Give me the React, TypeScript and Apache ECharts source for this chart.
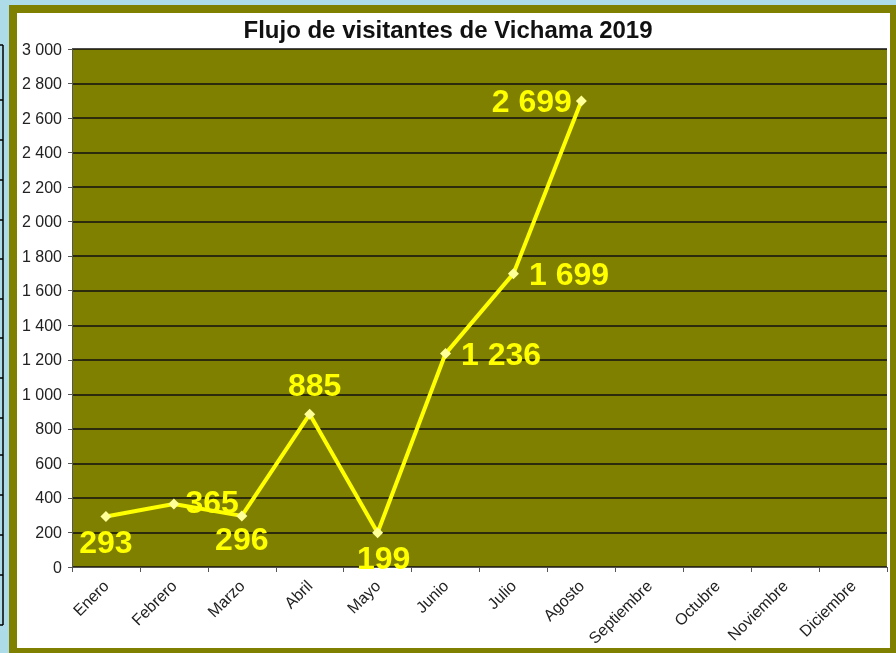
import React, { useEffect, useRef } from "react";
import * as echarts from "echarts";

const title = "Flujo de visitantes de Vichama 2019";
const months = ["Enero", "Febrero", "Marzo", "Abril", "Mayo", "Junio", "Julio", "Agosto", "Septiembre", "Octubre", "Noviembre", "Diciembre"];
const visitors: (number | null)[] = [293, 365, 296, 885, 199, 1236, 1699, 2699, null, null, null, null];
const labelPositions = ["bottom", "right", "bottom", "top", "bottom", "right", "right", "left", "top", "top", "top", "top"];
const labelOffsets: [number, number][] = [[0, 0], [2, -2], [0, -2], [5, -4], [6, 0], [6, 0], [6, 0], [0, 0], [0, 0], [0, 0], [0, 0], [0, 0]];
const tableLineYs = [45, 100, 140, 180, 220, 259, 299, 338, 378, 418, 455, 495, 535, 575, 625];

const fmt = (v: number) => {
  const s = String(Math.round(v));
  return s.replace(/\B(?=(\d{3})+(?!\d))/g, " ");
};

export default function App() {
  const ref = useRef<HTMLDivElement>(null);
  useEffect(() => {
    if (!ref.current) return;
    const chart = echarts.init(ref.current, null, { renderer: "svg" });
    const graphics: any[] = [
      { type: "rect", z: -10, shape: { x: 0, y: 0, width: 896, height: 653 }, style: { fill: "#aedbe8" } },
      { type: "rect", z: -9, shape: { x: 9, y: 5, width: 887, height: 648 }, style: { fill: "#808000" } },
      { type: "rect", z: -8, shape: { x: 17, y: 13, width: 873, height: 635 }, style: { fill: "#ffffff" } },
      { type: "line", z: -7, shape: { x1: 3, y1: 45, x2: 3, y2: 625 }, style: { stroke: "#000", lineWidth: 1.5 } },
    ];
    tableLineYs.forEach((y) => {
      graphics.push({ type: "line", z: -7, shape: { x1: 0, y1: y, x2: 3, y2: y }, style: { stroke: "#000", lineWidth: 1.5 } });
    });
    chart.setOption({
      animation: false,
      title: {
        text: title,
        left: 443,
        textAlign: "center",
        top: 12,
        textStyle: { fontFamily: "Arial, Liberation Sans", fontWeight: "bold", fontSize: 24, color: "#111" },
      },
      graphic: graphics,
      grid: { left: 72, right: 9, top: 49, bottom: 86, show: true, backgroundColor: "#808000", borderWidth: 0 },
      xAxis: {
        type: "category",
        data: months,
        boundaryGap: true,
        axisLine: { lineStyle: { color: "#555", width: 1 } },
        axisTick: { show: true, length: 5, lineStyle: { color: "#555" } },
        axisLabel: {
          rotate: 45,
          fontFamily: "Arial, Liberation Sans",
          fontSize: 16,
          color: "#222",
          margin: 16,
        },
      },
      yAxis: {
        type: "value",
        min: 0,
        max: 3000,
        interval: 200,
        axisLine: { show: true, lineStyle: { color: "#555", width: 1 } },
        axisTick: { show: true, length: 4, lineStyle: { color: "#555" } },
        splitLine: { show: true, lineStyle: { color: "#111", width: 1.5 } },
        axisLabel: {
          formatter: (v: number) => fmt(v),
          fontFamily: "Arial, Liberation Sans",
          fontSize: 16,
          color: "#222",
          margin: 10,
        },
      },
      series: [
        {
          type: "line",
          data: visitors.map((v, i) => ({
            value: v,
            label: { position: labelPositions[i], offset: labelOffsets[i] },
          })),
          lineStyle: { color: "#ffff00", width: 4 },
          itemStyle: { color: "#ffff99" },
          symbol: "diamond",
          symbolSize: 11,
          showAllSymbol: true,
          label: {
            show: true,
            formatter: (p: any) => (p.value == null ? "" : fmt(p.value)),
            fontFamily: "Arial, Liberation Sans",
            fontWeight: "bold",
            fontSize: 32,
            color: "#ffff00",
            distance: 4,
          },
        },
      ],
    });
    return () => chart.dispose();
  }, []);
  return <div ref={ref} style={{ position: "fixed", left: 0, top: 0, width: 896, height: 653 }} />;
}
